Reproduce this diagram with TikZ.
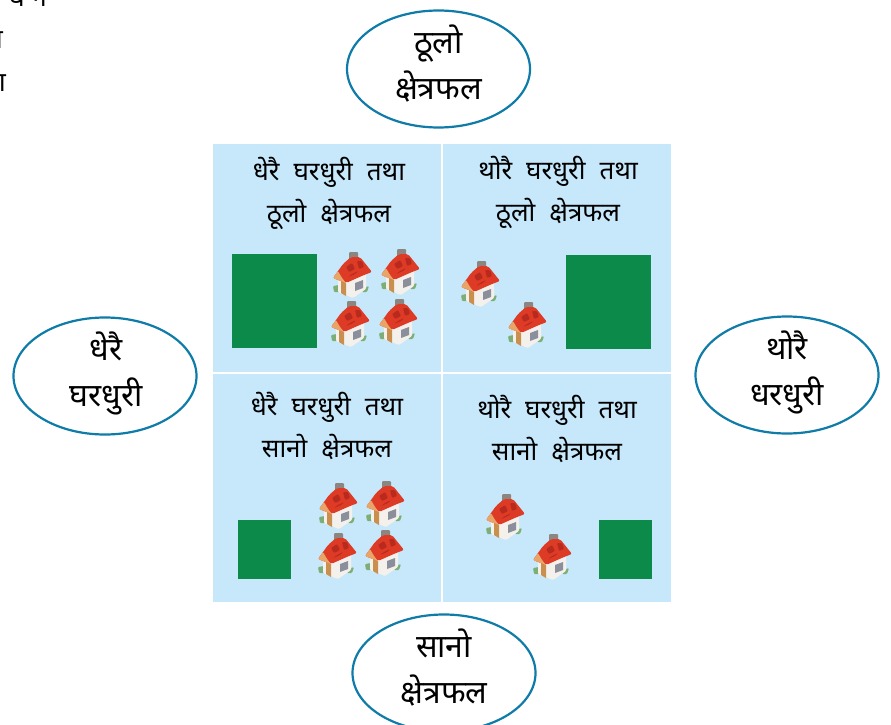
\documentclass[tikz,border=0pt]{standalone}
\usepackage{fontspec}
\usepackage{xcolor}
\newfontfamily\devfont[Script=Devanagari]{Noto Sans}
\newcommand{\widewords}{\spaceskip=14pt\relax}
\usetikzlibrary{
    shapes,
    positioning
}
\definecolor{panelblue}{HTML}{C6E8FA}
\definecolor{fieldgreen}{HTML}{0B8A4A}
\definecolor{ringblue}{HTML}{0E7BA8}
\definecolor{roofred}{HTML}{DE3B26}
\definecolor{roofdark}{HTML}{B92A1E}
\definecolor{roofpale}{HTML}{E9A468}
\definecolor{chimneygray}{HTML}{8C8580}
\definecolor{wallwhite}{HTML}{F4F1EC}
\definecolor{doortan}{HTML}{C98F4E}
\definecolor{glassgray}{HTML}{8B8F9C}
\definecolor{bushgreen}{HTML}{7DAE78}
\tikzset{
    ring/.style={draw=ringblue, line width=2.2pt, fill=white, ellipse, minimum width=183pt, minimum height=117pt, inner sep=0pt},
    ringtext/.style={align=center, inner sep=0pt, font=\devfont\fontsize{32}{46}\selectfont},
    panel/.style={fill=panelblue, minimum width=228pt, minimum height=228pt, inner sep=0pt},
    caption/.style={align=center, inner sep=0pt, font=\devfont\fontsize{26}{42}\selectfont},
    field/.style={fill=fieldgreen, inner sep=0pt},
    clipped/.style={inner sep=0pt, font=\devfont\fontsize{27}{27}\selectfont},
    house/.pic={
        \fill[chimneygray, rounded corners=1pt] (-3,-23) rectangle (6,-11);
        \fill[bushgreen, rounded corners=1pt] (-19,11) -- (-13,10) -- (-13,17) -- (-18,17) -- cycle;
        \fill[bushgreen, rounded corners=1pt] (11,13) -- (17,11) -- (15,17) -- (10,17) -- cycle;
        \fill[wallwhite, rounded corners=1pt] (-14,1) -- (-14,17) -- (1,23) -- (14,14) -- (14,-4) -- cycle;
        \fill[doortan] (-11,6) -- (-6,8) -- (-6,21) -- (-11,18) -- cycle;
        \fill[glassgray] (3,8) -- (11,5) -- (11,13) -- (3,16) -- cycle;
        \fill[roofred, rounded corners=2pt] (-19,3) -- (-9,-11) -- (-1,-18) -- (8,-18) -- (20,-3) -- (12,0) -- (-6,8) -- cycle;
        \fill[roofpale, rounded corners=1pt] (-19,3) -- (-14,-4) -- (-10,3) -- (-6,8) -- cycle;
        \fill[roofdark, rounded corners=1pt] (-6,-8) -- (0,-12) -- (3,-6) -- (-3,-3) -- cycle;
        \fill[roofdark, rounded corners=1pt] (5,-14) -- (10,-14) -- (12,-8) -- (7,-6) -- cycle;
        \fill[roofdark, rounded corners=1pt] (-4,2) -- (3,-1) -- (6,-4) -- (0,-1) -- cycle;
    }
}
\begin{document}
\begin{tikzpicture}[x=1pt, y=-1pt]
    \useasboundingbox (0, 0) rectangle (891, 725);

    \node[clipped, anchor=east] (topcut) at (47, -2) {घ न};
    \node[clipped, anchor=east] (midcut) at (3, 40) {ा};
    \node[clipped, anchor=east] (lowcut) at (6, 83) {ा};

    \node[panel] (nw) at (327, 258) {};
    \node[panel] (ne) at (557, 258) {};
    \node[panel] (sw) at (327, 488) {};
    \node[panel] (se) at (557, 488) {};

    \node[ring] (big) at (438.5, 69) {};
    \node[ring] (many) at (105, 376) {};
    \node[ring] (few) at (787, 375) {};
    \node[ring] (small) at (444, 673) {};

    \node[ringtext] (bigtext) at (438.5, 64) {ठूलो\\क्षेत्रफल};
    \node[ringtext] (manytext) at (106, 373) {धेरै\\घरधुरी};
    \node[ringtext] (fewtext) at (787, 372) {थोरै\\धरधुरी};
    \node[ringtext] (smalltext) at (444, 668) {सानो\\क्षेत्रफल};

    \node[caption] (nwtext) at (329, 193.5) {\widewords धेरै घरधुरी तथा\\\widewords ठूलो क्षेत्रफल};
    \node[caption] (netext) at (558, 192.5) {\widewords थोरै घरधुरी तथा\\\widewords ठूलो क्षेत्रफल};
    \node[caption] (swtext) at (327, 425.5) {\widewords धेरै घरधुरी तथा\\\widewords सानो क्षेत्रफल};
    \node[caption] (setext) at (557, 428.5) {\widewords थोरै घरधुरी तथा\\\widewords सानो क्षेत्रफल};

    \node[field, minimum width=85pt, minimum height=94pt] (nwfield) at (274.5, 301) {};
    \node[field, minimum width=85pt, minimum height=94pt] (nefield) at (608.5, 302) {};
    \node[field, minimum width=53pt, minimum height=59pt] (swfield) at (264.5, 549.5) {};
    \node[field, minimum width=53pt, minimum height=59pt] (sefield) at (625.5, 549.5) {};

    \pic at (352, 275) {house};
    \pic at (400, 272) {house};
    \pic at (350, 324) {house};
    \pic at (398, 322) {house};
    \pic at (480, 284) {house};
    \pic at (527, 325) {house};
    \pic at (338, 506) {house};
    \pic at (385, 504) {house};
    \pic at (337, 556) {house};
    \pic at (384, 553) {house};
    \pic at (505, 517) {house};
    \pic at (552, 557) {house};
\end{tikzpicture}
\end{document}
